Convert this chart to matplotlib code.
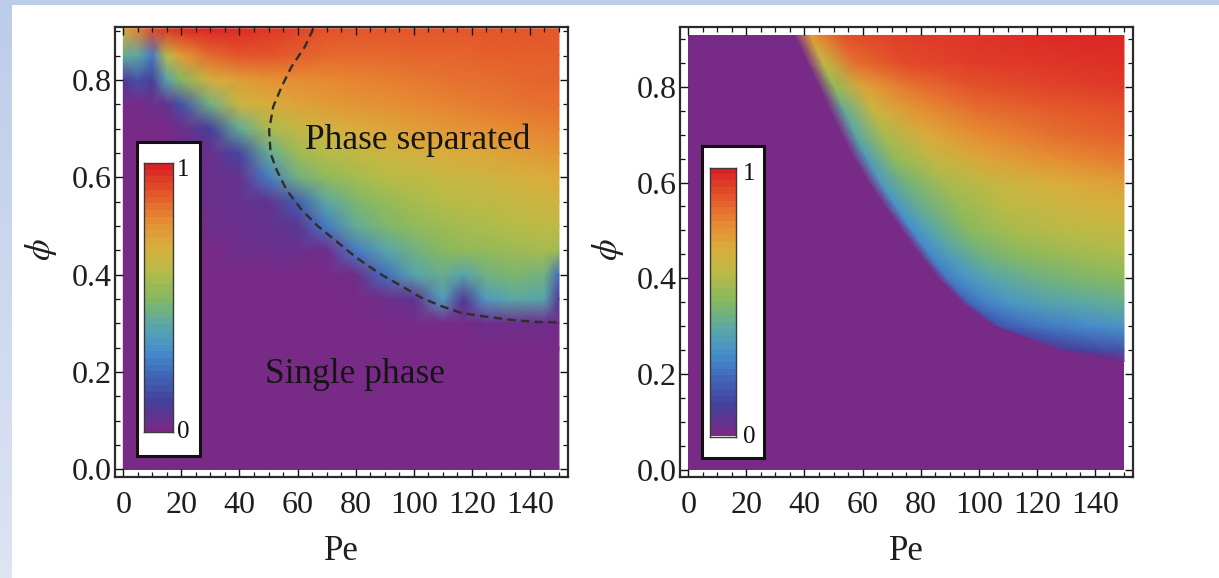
import numpy as np
import matplotlib
matplotlib.use("Agg")
import matplotlib.pyplot as plt
from matplotlib.colors import LinearSegmentedColormap
from matplotlib.patches import Rectangle
from matplotlib.ticker import MultipleLocator, FormatStrFormatter

plt.rcParams["font.family"] = ["Liberation Serif", "DejaVu Serif"]
plt.rcParams["mathtext.fontset"] = "stix"

# ---------------------------------------------------------------- colour scale
rainbow_pos = [0.0, 0.1, 0.2, 0.3, 0.4, 0.5, 0.6, 0.7, 0.8, 0.9, 1.0]
rainbow_hex = ["#782a87", "#45409b", "#4165b8", "#4690ce", "#5ba9a4", "#86b95f",
               "#b7bc48", "#daae3c", "#e78a33", "#e4562b", "#db2126"]
cmap = LinearSegmentedColormap.from_list("rainbow", list(zip(rainbow_pos, rainbow_hex)))

# ---------------------------------------------------------------- simulation map
pe_sim = [0, 5, 10, 15, 20, 30, 40, 50, 60, 70, 80, 90, 100, 110, 117, 125, 135, 145, 150]
phi_sim = [0.0, 0.25, 0.30, 0.35, 0.40, 0.45, 0.50, 0.55, 0.60, 0.65, 0.70, 0.75, 0.80, 0.85, 0.905]
order_sim = [
    [0, 0, 0, 0, 0, 0, 0, 0, 0, 0, 0, 0, 0, 0, 0, 0, 0, 0, 0],
    [0, 0, 0, 0, 0, 0, 0, 0, 0, 0, 0, 0, 0, 0, 0, 0, 0, 0, 0],
    [0, 0, 0, 0, 0, 0, 0, 0, 0, 0, 0, 0, 0, 0.0, 0.0, 0.02, 0.02, 0.02, 0.0],
    [0, 0, 0, 0, 0, 0, 0, 0, 0, 0, 0, 0.02, 0.05, 0.35, 0.08, 0.34, 0.40, 0.38, 0.08],
    [0, 0, 0, 0, 0, 0, 0, 0, 0, 0, 0.02, 0.22, 0.38, 0.43, 0.38, 0.45, 0.48, 0.45, 0.22],
    [0, 0, 0, 0, 0, 0, 0.02, 0.03, 0.03, 0.02, 0.25, 0.38, 0.45, 0.50, 0.52, 0.53, 0.55, 0.57, 0.55],
    [0, 0, 0, 0, 0, 0.02, 0.03, 0.04, 0.06, 0.25, 0.42, 0.48, 0.52, 0.55, 0.57, 0.58, 0.60, 0.62, 0.62],
    [0, 0, 0, 0, 0.02, 0.03, 0.04, 0.05, 0.18, 0.40, 0.48, 0.53, 0.57, 0.60, 0.61, 0.62, 0.64, 0.66, 0.67],
    [0, 0, 0, 0, 0.02, 0.03, 0.04, 0.25, 0.45, 0.52, 0.56, 0.60, 0.62, 0.64, 0.65, 0.66, 0.68, 0.70, 0.71],
    [0, 0, 0, 0, 0.02, 0.03, 0.12, 0.42, 0.55, 0.60, 0.63, 0.66, 0.68, 0.70, 0.71, 0.72, 0.74, 0.76, 0.77],
    [0, 0, 0, 0, 0.02, 0.10, 0.42, 0.57, 0.63, 0.67, 0.70, 0.72, 0.74, 0.76, 0.77, 0.78, 0.80, 0.81, 0.82],
    [0, 0, 0.02, 0.04, 0.15, 0.45, 0.65, 0.70, 0.73, 0.75, 0.77, 0.78, 0.80, 0.81, 0.82, 0.83, 0.84, 0.85, 0.85],
    [0.08, 0.15, 0.10, 0.38, 0.50, 0.68, 0.74, 0.77, 0.79, 0.80, 0.81, 0.82, 0.83, 0.84, 0.85, 0.85, 0.86, 0.87, 0.87],
    [0.42, 0.40, 0.25, 0.60, 0.75, 0.86, 0.90, 0.90, 0.88, 0.86, 0.86, 0.86, 0.87, 0.87, 0.87, 0.88, 0.88, 0.88, 0.88],
    [0.72, 0.82, 0.92, 0.96, 0.98, 0.99, 0.98, 0.96, 0.93, 0.91, 0.90, 0.90, 0.90, 0.90, 0.90, 0.90, 0.90, 0.90, 0.90],
]

# spinodal line overlaid on the simulation map
spinodal_pe = [65.4, 62.5, 57.9, 54.5, 51.6, 50.2, 50.7, 52.8, 56.2, 61.4, 67.1, 72.9,
               79.8, 88.0, 96.0, 102.8, 109.7, 116.6, 124.7, 133.9, 141.9, 150.0]
spinodal_phi = [0.905, 0.868, 0.827, 0.786, 0.745, 0.697, 0.649, 0.615, 0.574, 0.533, 0.499, 0.471,
                0.437, 0.403, 0.376, 0.352, 0.335, 0.321, 0.314, 0.307, 0.303, 0.302]

# ---------------------------------------------------------------- theory map
# each row runs from the onset Pe_c(phi) to Pe = 150; columns are fractions of that span
pe_max = 150.0
phi_close = 0.907
phi_th = [0.226, 0.25, 0.30, 0.35, 0.40, 0.45, 0.50, 0.55, 0.60, 0.65, 0.70, 0.75, 0.80, 0.85, 0.907]
pe_onset = [150.0, 128.0, 105.0, 94.0, 86.0, 79.5, 73.5, 67.6, 62.0, 57.0, 52.8, 48.8, 45.0, 41.0, 36.5]
span_frac = [0.0, 0.05, 0.15, 0.30, 0.50, 0.75, 1.0]
order_th = [
    [0, 0.00, 0.00, 0.00, 0.00, 0.00, 0.00],
    [0, 0.06, 0.08, 0.10, 0.12, 0.14, 0.15],
    [0, 0.16, 0.19, 0.23, 0.26, 0.29, 0.32],
    [0, 0.21, 0.27, 0.33, 0.37, 0.40, 0.43],
    [0, 0.25, 0.32, 0.39, 0.44, 0.48, 0.51],
    [0, 0.28, 0.36, 0.45, 0.51, 0.55, 0.58],
    [0, 0.30, 0.40, 0.50, 0.57, 0.61, 0.64],
    [0, 0.32, 0.43, 0.53, 0.61, 0.66, 0.69],
    [0, 0.34, 0.46, 0.57, 0.645, 0.70, 0.74],
    [0, 0.35, 0.52, 0.635, 0.73, 0.79, 0.83],
    [0, 0.40, 0.57, 0.71, 0.795, 0.85, 0.88],
    [0, 0.42, 0.65, 0.77, 0.85, 0.885, 0.91],
    [0, 0.52, 0.73, 0.84, 0.905, 0.93, 0.95],
    [0, 0.62, 0.85, 0.92, 0.945, 0.96, 0.97],
    [0, 0.75, 0.91, 0.94, 0.96, 0.98, 0.99],
]

pe_ticks = [0, 20, 40, 60, 80, 100, 120, 140]
phi_ticks = [0.0, 0.2, 0.4, 0.6, 0.8]

# ---------------------------------------------------------------- figure
W, H = 1219, 578
fig = plt.figure(figsize=(W / 100, H / 100), dpi=100)
fig.patch.set_facecolor("white")


def fbox(x0, y0, x1, y1):
    """pixel box (top-left origin) -> figure fraction rect"""
    return [x0 / W, 1 - y1 / H, (x1 - x0) / W, (y1 - y0) / H]


# light blue page edges
band_top = fig.add_axes(fbox(0, 0, W, 5))
band_top.axis("off")
band_top.add_patch(Rectangle((0, 0), 1, 1, color="#bccdea", transform=band_top.transAxes))
band_left = fig.add_axes(fbox(0, 0, 11, H))
band_left.axis("off")
edge_cmap = LinearSegmentedColormap.from_list("edge", ["#bccdea", "#dde4f2"])
band_left.imshow(np.linspace(0, 1, 64)[:, None], aspect="auto", cmap=edge_cmap,
                 extent=[0, 1, 0, 1], origin="upper")
band_left.set_xlim(0, 1)
band_left.set_ylim(0, 1)

tick_size = 23
frame_col = "#2b2b2b"


def style_axes(ax, xlim, ylim):
    ax.set_xlim(*xlim)
    ax.set_ylim(*ylim)
    ax.set_xticks(pe_ticks)
    ax.set_yticks(phi_ticks)
    ax.xaxis.set_minor_locator(MultipleLocator(5))
    ax.yaxis.set_minor_locator(MultipleLocator(0.05))
    ax.yaxis.set_major_formatter(FormatStrFormatter("%.1f"))
    ax.tick_params(which="both", direction="in", top=True, right=True, color="#111111")
    ax.tick_params(which="major", length=6, width=1.0, labelsize=tick_size, labelcolor="#1e1e1e")
    ax.tick_params(which="minor", length=3.8, width=0.9)
    ax.tick_params(axis="x", which="major", pad=10)
    ax.tick_params(axis="y", which="major", pad=2)
    for sp in ax.spines.values():
        sp.set_linewidth(1.6)
        sp.set_color(frame_col)
    ax.set_facecolor("white")


def inset_bar(box_px, strip_px, one_xy, zero_xy):
    box = fig.add_axes(fbox(*box_px))
    box.set_xticks([])
    box.set_yticks([])
    box.set_facecolor("white")
    for sp in box.spines.values():
        sp.set_linewidth(2.2)
        sp.set_color("#111111")
    strip = fig.add_axes(fbox(*strip_px))
    strip.imshow(np.linspace(0, 1, 40)[:, None], aspect="auto", cmap=cmap, origin="lower",
                 extent=[0, 1, 0, 1])
    strip.set_xticks([])
    strip.set_yticks([])
    for sp in strip.spines.values():
        sp.set_linewidth(1.0)
        sp.set_color("#3a3a3a")
    fig.text(one_xy[0] / W, 1 - one_xy[1] / H, "1", fontsize=18, ha="left", va="top", color="#111111")
    fig.text(zero_xy[0] / W, 1 - zero_xy[1] / H, "0", fontsize=18, ha="left", va="baseline", color="#111111")


# ---------------------------------------------------------------- left: simulation
axL = fig.add_axes(fbox(115, 27.3, 568.3, 476.7))
style_axes(axL, (-2.86, 153.2), (-0.0148, 0.908))
PE, PHI = np.meshgrid(pe_sim, phi_sim)
axL.pcolormesh(PE, PHI, np.array(order_sim), shading="gouraud", cmap=cmap, vmin=0, vmax=1,
               rasterized=True)
axL.plot(spinodal_pe, spinodal_phi, color="#2e2e2e", lw=1.7, dashes=(3.6, 2.2))
axL.text(101.3, 0.6575, "Phase separated", fontsize=25.5, ha="center", va="baseline", color="#151515")
axL.text(79.8, 0.177, "Single phase", fontsize=25.5, ha="center", va="baseline", color="#151515")

# ---------------------------------------------------------------- right: theory
axR = fig.add_axes(fbox(680, 27.3, 1132.7, 477.3))
style_axes(axR, (-2.86, 153.0), (-0.0152, 0.924))
axR.add_patch(Rectangle((0, 0), pe_max, phi_close, facecolor=cmap(0.0), edgecolor="none"))
onset = np.array(pe_onset)[:, None]
frac = np.array(span_frac)[None, :]
PE_T = onset + frac * (pe_max - onset)
PHI_T = np.repeat(np.array(phi_th)[:, None], len(span_frac), axis=1)
axR.pcolormesh(PE_T, PHI_T, np.array(order_th), shading="gouraud", cmap=cmap, vmin=0, vmax=1,
               rasterized=True)

# ---------------------------------------------------------------- axis titles
for cx, phx in ((341.5, 41), (906.0, 608)):
    fig.text(cx / W, 1 - 560 / H, "Pe", fontsize=25, ha="center", va="baseline", color="#1e1e1e")
    fig.text(phx / W, 1 - 250 / H, r"$\phi$", fontsize=25, rotation=90, ha="center", va="center",
             color="#1e1e1e")

# ---------------------------------------------------------------- inset colour bars
inset_bar((136.7, 141.7, 200, 456), (144.3, 163.3, 172.7, 432.3), (177.3, 159), (177.3, 438))
inset_bar((701.7, 145.5, 764, 458.3), (709.5, 167.5, 736, 436.5), (742.5, 163), (742.5, 443))

fig.savefig("out.png", dpi=100, facecolor="white")
